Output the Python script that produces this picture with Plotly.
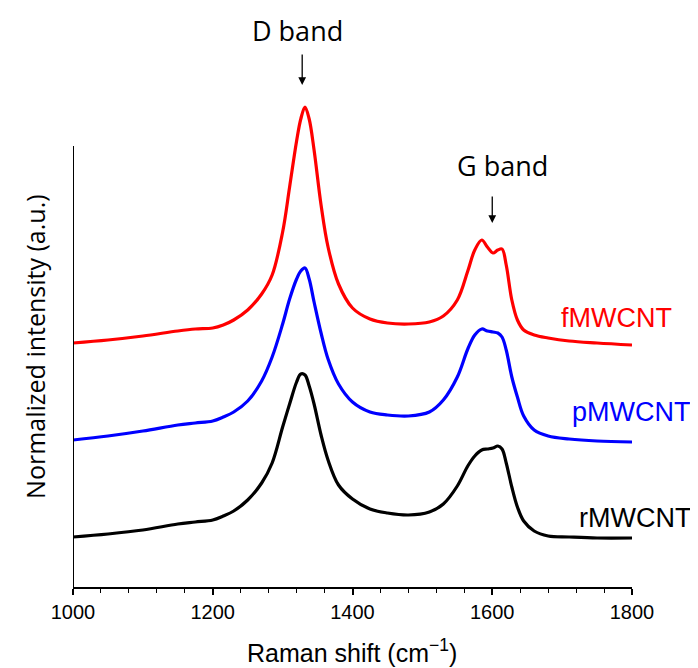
import plotly.graph_objects as go

# Raman shift (cm^-1)
shift = [1000, 1050, 1100, 1150, 1175, 1200, 1215, 1230, 1250, 1270, 1285, 1300, 1310, 1320, 1326, 1332,
         1338, 1345, 1355, 1365, 1380, 1400, 1425, 1450, 1480, 1510, 1530, 1550, 1565, 1575,
         1585, 1593, 1601, 1608, 1614, 1620, 1628, 1636, 1645, 1660, 1680, 1710, 1750, 1800]

# Normalized intensity (a.u., offset stacked)
fmwcnt = [244, 247, 251, 256, 258, 259, 262, 267, 277, 293, 312, 355, 400, 446, 468, 480,
          468, 437, 382, 340, 303, 279, 268, 264, 263, 265, 271, 287, 316, 337,
          347, 340, 334, 337, 338, 322, 287, 267, 257, 252, 249, 246, 244, 242]
pmwcnt = [147, 151, 156, 162, 164, 166, 170, 175, 186, 206, 230, 263, 288, 308, 316, 319,
          308, 285, 254, 228, 203, 185, 175, 172, 171, 175, 187, 210, 238, 252,
          258, 256, 255, 254, 250, 237, 210, 190, 171, 157, 151, 148, 146, 145]
rmwcnt = [50, 53, 57, 63, 65, 67, 71, 76, 87, 104, 124, 160, 183, 205, 213, 212,
          201, 183, 152, 127, 102, 88, 78, 74, 72, 75, 83, 101, 121, 131,
          137, 138, 139, 141, 138, 124, 100, 80, 66, 56, 51, 50, 49, 49]

series_names = ["fMWCNT", "pMWCNT", "rMWCNT"]
series_colors = ["#ff0000", "#0000ff", "#000000"]
series_values = [fmwcnt, pmwcnt, rmwcnt]
# label anchor positions (paper coords, right edge / middle)
label_pos = [(1.075, 0.547), (1.107, 0.356), (1.109, 0.140)]

x_ticks = [1000, 1200, 1400, 1600, 1800]

fig = go.Figure()
for name, color, vals in zip(series_names, series_colors, series_values):
    fig.add_trace(go.Scatter(x=shift, y=vals, mode="lines", name=name,
                             line=dict(color=color, width=3.2, shape="spline", smoothing=1.0)))

for (lx, ly), name, color in zip(label_pos, series_names, series_colors):
    fig.add_annotation(x=lx, y=ly, xref="paper", yref="paper", text=name, showarrow=False,
                       xanchor="right", yanchor="middle",
                       font=dict(family="Liberation Sans, Arial", size=27, color=color))

# y axis line (only up to the axis top)
fig.add_shape(type="line", xref="x", yref="y", x0=1000, x1=1000, y0=0, y1=441,
              line=dict(color="black", width=2))

# band labels and arrows
fig.add_annotation(x=1321, y=1.132, xref="x", yref="paper", text="D band", showarrow=False,
                   xanchor="center", yanchor="middle",
                   font=dict(family="Open Sans", size=27, color="black"))
fig.add_annotation(x=1328, y=1.0203, xref="x", yref="paper", text="", showarrow=True,
                   ax=0, ay=-32, arrowhead=2, arrowsize=1.2, arrowwidth=1.3, arrowcolor="black")
fig.add_annotation(x=1614, y=0.8577, xref="x", yref="paper", text="G band", showarrow=False,
                   xanchor="center", yanchor="middle",
                   font=dict(family="Open Sans", size=27, color="black"))
fig.add_annotation(x=1600, y=0.7398, xref="x", yref="paper", text="", showarrow=True,
                   ax=0, ay=-28, arrowhead=2, arrowsize=1.2, arrowwidth=1.3, arrowcolor="black")

# axis titles
fig.add_annotation(x=-0.068, y=0.488, xref="paper", yref="paper", text="Normalized intensity (a.u.)",
                   textangle=-90, showarrow=False, xanchor="center", yanchor="middle",
                   font=dict(family="Open Sans", size=25, color="black"))
fig.add_annotation(x=0.499, y=-0.130, xref="paper", yref="paper", text="Raman shift (cm<sup>−1</sup>)",
                   showarrow=False, xanchor="center", yanchor="middle",
                   font=dict(family="Liberation Sans, Arial", size=25, color="black"))

fig.update_layout(
    width=690, height=660,
    margin=dict(l=65, r=66, t=87, b=81),
    paper_bgcolor="white", plot_bgcolor="white",
    showlegend=False,
    xaxis=dict(range=[1000, 1800], tickvals=x_ticks, ticktext=[str(t) for t in x_ticks],
               showline=True, linecolor="black", linewidth=2, showgrid=False, zeroline=False,
               ticks="outside", ticklen=6, tickwidth=1.5, tickcolor="black",
               minor=dict(dtick=40, tick0=1000, ticks="outside", ticklen=4, tickwidth=1.2, tickcolor="black"),
               tickfont=dict(family="Liberation Sans, Arial", size=20, color="black")),
    yaxis=dict(range=[0, 492], showline=False, showgrid=False, zeroline=False,
               showticklabels=False, ticks=""),
)

fig.write_html("out.html")
